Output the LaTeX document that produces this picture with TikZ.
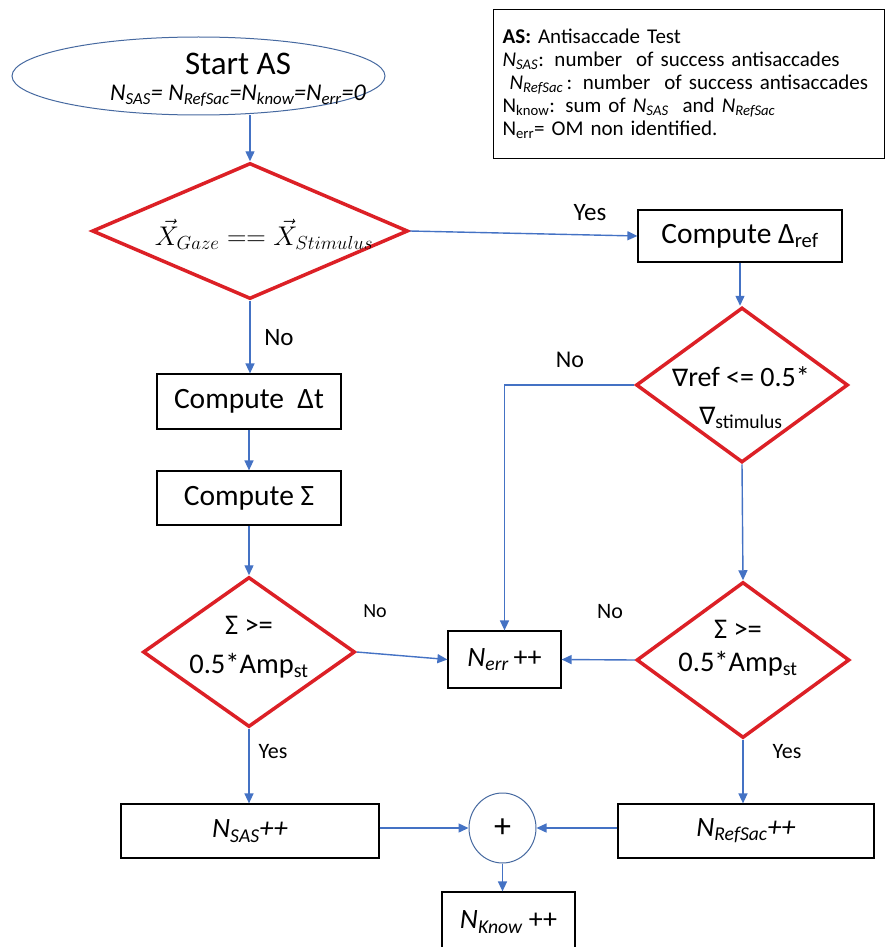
\documentclass[tikz,border=0pt]{standalone}
\usepackage{fix-cm}
\usepackage{fontspec}
\setmainfont{Carlito}
\newfontfamily\dejavu{DejaVu Sans}
\usetikzlibrary{shapes.geometric,arrows.meta}
\hyphenpenalty=10000
\definecolor{arrblue}{RGB}{68,114,196}
\definecolor{dred}{RGB}{220,32,38}
\definecolor{ellblue}{RGB}{70,105,160}
\newcommand{\Nit}[1]{\textit{N}\textsubscript{\textit{#1}}}
\newcommand{\Nup}[1]{N\textsubscript{#1}}
\newcommand{\nab}{{\dejavu\fontsize{24}{24}\selectfont ∇}}
\tikzset{
  box/.style={draw=black, line width=1.2pt, inner sep=0pt, font=\fontsize{28}{34}\selectfont},
  cbox/.style={box, font=\fontsize{29.5}{34}\selectfont},
  dia/.style={shape=diamond, draw=dred, line width=3.5pt, inner sep=0pt},
  dtxt/.style={align=center, inner sep=0pt},
  arr/.style={draw=arrblue, line width=1.4pt, -{Triangle[length=10pt,width=9pt]}},
  lab/.style={font=\fontsize{24}{26}\selectfont, inner sep=0pt},
}
\begin{document}
\begin{tikzpicture}[x=1pt,y=-1pt]
\useasboundingbox (0,0) rectangle (886,947);
% start
\node[draw=ellblue, line width=1pt, ellipse, minimum width=373pt, minimum height=78pt] (start) at (198.5,76) {};
\node[align=center, inner sep=0pt, font=\fontsize{24}{26}\selectfont] (starttxt) at (238,80) {{\fontsize{33}{34}\selectfont Start AS}\\{\itshape N\textsubscript{SAS}= N\textsubscript{RefSac}=N\textsubscript{know}=N\textsubscript{err}=0}};
% legend
\node[draw=black, line width=1.2pt, anchor=north west, minimum width=391pt, minimum height=149pt, text width=373pt, align=left, inner xsep=9pt, font=\fontsize{21}{23}\selectfont] (legend) at (493,9) {\textbf{AS:} Antisaccade Test\\
\Nit{SAS}: number\ \ of success antisaccades\\
\ \Nit{RefSac}\,: number\ \ of success antisaccades\\
\Nup{know}: sum of \Nit{SAS}\ \ and \Nit{RefSac}\\
\Nup{err}= OM non identified.};
% diamonds
\node[dia, minimum width=316pt, minimum height=136pt] (d1) at (250,231) {};
\node[dtxt, font=\fontsize{27}{34}\selectfont] (t1) at (264,234) {$\vec{X}_{\mathnormal{Gaze}}\;{==}\;\vec{X}_{\mathnormal{Stimulus}}$};
\node[dia, minimum width=212pt, minimum height=155pt] (d2) at (742,385) {};
\node[dtxt, font=\fontsize{28}{38}\selectfont] (t2) at (741,398) {\nab ref <= 0.5*\\\nab\textsubscript{stimulus}};
\node[dia, minimum width=212pt, minimum height=150pt] (d3) at (249,652) {};
\node[dtxt, font=\fontsize{28.5}{39}\selectfont] (t3) at (249,647) {Σ >=\\0.5*Amp\textsubscript{st}};
\node[dia, minimum width=213pt, minimum height=156pt] (d4) at (743,660) {};
\node[dtxt, font=\fontsize{28.5}{33}\selectfont] (t4) at (738,648) {Σ >=\\0.5*Amp\textsubscript{st}};
% boxes
\node[cbox, minimum width=204pt, minimum height=52pt] (ref) at (740,236) {Compute Δ\textsubscript{ref}};
\node[cbox, minimum width=184pt, minimum height=55pt] (dt) at (249,401.5) {Compute\ \ Δt};
\node[cbox, minimum width=184pt, minimum height=54pt] (sig) at (249,498) {Compute Σ};
\node[box, minimum width=113pt, minimum height=57pt] (nerr) at (504.5,659.5) {\Nit{err}\,++};
\node[box, minimum width=258pt, minimum height=54pt] (nsas) at (250,831) {\textit{N\textsubscript{SAS}++}};
\node[box, minimum width=256pt, minimum height=54pt] (nref) at (746,831) {\textit{N\textsubscript{RefSac}++}};
\node[draw=ellblue, line width=1pt, ellipse, minimum width=67pt, minimum height=70pt, inner sep=0pt, font=\fontsize{34}{36}\selectfont] (plus) at (502.5,828) {+};
\node[box, minimum width=133pt, minimum height=60pt] (nknow) at (508.5,922) {\textit{N\textsubscript{Know}} ++};
% connectors
\draw[arr] (d1.north |- start.south) -- (d1.north);
\draw[arr] (d1.east) -- (ref.west);
\draw[arr] (ref.south) -- (ref.south |- d2.north);
\draw[arr] (d2.west) -| (nerr.north);
\draw[arr] (d1.south) -- (d1.south |- dt.north);
\draw[arr] (dt.south) -- (sig.north);
\draw[arr] (sig.south) -- (sig.south |- d3.north);
\draw[arr] (d3.east) -- (nerr.west);
\draw[arr] (d2.south) -- (d4.north);
\draw[arr] (d4.west) -- (nerr.east);
\draw[arr] (d3.south) -- (d3.south |- nsas.north);
\draw[arr] (d4.south) -- (d4.south |- nref.north);
\draw[arr] (plus.west -| nsas.east) -- (plus.west);
\draw[arr] (plus.east -| nref.west) -- (plus.east);
\draw[arr] (plus.south) -- (plus.south |- nknow.north);
% labels
\node[lab, font=\fontsize{25}{26}\selectfont] (l1) at (590,213) {Yes};
\node[lab, font=\fontsize{25}{26}\selectfont] (l2) at (279,338) {No};
\node[lab] (l3) at (570,360) {No};
\node[lab, font=\fontsize{20}{22}\selectfont] (l4) at (375,611) {No};
\node[lab, font=\fontsize{22}{24}\selectfont] (l5) at (610,612) {No};
\node[lab, font=\fontsize{22}{24}\selectfont] (l6) at (273,752) {Yes};
\node[lab, font=\fontsize{22}{24}\selectfont] (l7) at (787,752) {Yes};
\end{tikzpicture}
\end{document}
